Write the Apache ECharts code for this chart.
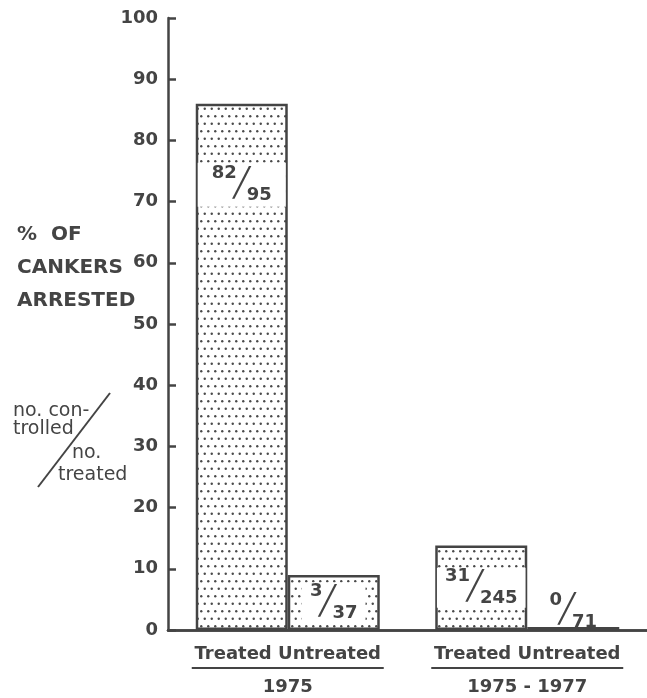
<!DOCTYPE html>
<html><head><meta charset="utf-8">
<script src="https://cdn.jsdelivr.net/npm/echarts@6/dist/echarts.min.js"></script>
<style>html,body{margin:0;padding:0;background:#fff}#c{width:647px;height:698px}</style>
</head><body><div id="c"></div>
<script>
// ---- data ----
const groups = ['1975', '1975 - 1977'];
const subLabels = ['Treated', 'Untreated'];
const treatedPct = [86, 13.8];
const untreatedPct = [9, 0.5];
const treatedNum = ['82', '31'];
const treatedDen = ['95', '245'];
const untreatedNum = ['3', '0'];
const untreatedDen = ['37', '71'];
const yTicks = [0, 10, 20, 30, 40, 50, 60, 70, 80, 90, 100];

// dotted fill pattern (staggered rows)
const pc = document.createElement('canvas');
pc.width = 7; pc.height = 15;
const g = pc.getContext('2d');
g.fillStyle = '#fff'; g.fillRect(0, 0, 7, 15);
g.fillStyle = '#4a4a4a';
g.beginPath(); g.arc(1.75, 3.75, 1.2, 0, Math.PI * 2); g.fill();
g.beginPath(); g.arc(5.25, 11.25, 1.2, 0, Math.PI * 2); g.fill();
const dots = { image: pc, repeat: 'repeat' };

const FONT = 'DejaVu Sans';
const INK = '#444';
const fracRich = {
  n: { fontFamily: FONT, fontWeight: 'bold', fontSize: 18, color: INK, lineHeight: 20, verticalAlign: 'top' },
  s: { fontFamily: FONT, fontWeight: 'normal', fontSize: 28, color: INK, lineHeight: 40, width: 10, align: 'center' },
  d: { fontFamily: FONT, fontWeight: 'bold', fontSize: 18, color: INK, lineHeight: 20, verticalAlign: 'bottom' }
};
function fracLabel(num, den, extra) {
  return Object.assign({
    show: true,
    formatter: '{n|' + num + '}{s|\u2571}{d|' + den + '}',
    rich: fracRich
  }, extra);
}

const treatedData = treatedPct.map((v, i) => ({
  value: v,
  label: fracLabel(treatedNum[i], treatedDen[i], i === 0
    ? { position: ['50%', 81], align: 'center', verticalAlign: 'middle', backgroundColor: '#fff', padding: [2, 14] }
    : { position: 'inside', backgroundColor: '#fff', padding: [0, 8] })
}));
const untreatedData = untreatedPct.map((v, i) => ({
  value: v,
  label: fracLabel(untreatedNum[i], untreatedDen[i], i === 0
    ? { position: 'inside', backgroundColor: '#fff', padding: [0, 8] }
    : { position: 'top', distance: -4 })
}));

const chart = echarts.init(document.getElementById('c'));
const axisLineStyle = { color: INK, width: 2.5 };
chart.setOption({
  animation: false,
  backgroundColor: '#fff',
  title: {
    text: '%  OF\nCANKERS\nARRESTED',
    left: 12, top: 213,
    textStyle: { fontFamily: FONT, fontWeight: 'bold', fontSize: 20, color: INK, lineHeight: 33 }
  },
  grid: { left: 168, right: 0, top: 18, bottom: 68 },
  xAxis: [{
    type: 'category',
    data: groups,
    axisLine: { show: true, lineStyle: axisLineStyle },
    axisTick: { show: false },
    axisLabel: {
      margin: 14,
      formatter: v => '{t|' + subLabels.join(' ') + '}\n{u| }\n{y|' + v + '}',
      rich: {
        t: { fontFamily: FONT, fontWeight: 'bold', fontSize: 18, color: INK, lineHeight: 20 },
        u: { width: 192, height: 2, backgroundColor: INK, lineHeight: 8 },
        y: { fontFamily: FONT, fontWeight: 'bold', fontSize: 18, color: INK, lineHeight: 30 }
      }
    }
  }, {
    type: 'category',
    data: groups,
    position: 'top',
    axisLine: { show: true, lineStyle: axisLineStyle },
    axisTick: { show: false },
    axisLabel: { show: false }
  }],
  yAxis: [{
    type: 'value',
    min: 0, max: 100, interval: 10,
    axisLine: { show: true, lineStyle: axisLineStyle },
    axisTick: { show: true, inside: true, length: 8, lineStyle: axisLineStyle },
    splitLine: { show: false },
    axisLabel: { margin: 10, fontFamily: FONT, fontWeight: 'bold', fontSize: 18, color: INK,
      customValues: yTicks }
  }, {
    type: 'value',
    min: 0, max: 100,
    axisLine: { show: false },
    axisTick: { show: true, inside: false, length: 10, lineStyle: axisLineStyle, customValues: [0] },
    axisLabel: { show: false },
    splitLine: { show: false }
  }],
  series: [{
    name: subLabels[0], type: 'bar', barWidth: 92, barGap: '0%',
    itemStyle: { color: dots, borderColor: INK, borderWidth: 2.5 },
    data: treatedData
  }, {
    name: subLabels[1], type: 'bar', barWidth: 92, barGap: '0%',
    itemStyle: { color: dots, borderColor: INK, borderWidth: 2.5 },
    data: untreatedData
  }],
  graphic: [
    { type: 'text', left: 13, top: 402, style: { text: 'no. con-', font: '19px "DejaVu Sans"', fill: INK } },
    { type: 'text', left: 13, top: 420, style: { text: 'trolled', font: '19px "DejaVu Sans"', fill: INK } },
    { type: 'text', left: 72, top: 444, style: { text: 'no.', font: '19px "DejaVu Sans"', fill: INK } },
    { type: 'text', left: 58, top: 466, style: { text: 'treated', font: '19px "DejaVu Sans"', fill: INK } },
    { type: 'line', shape: { x1: 38, y1: 487, x2: 110, y2: 393 }, style: { stroke: INK, lineWidth: 2 } }
  ]
});
</script></body></html>
